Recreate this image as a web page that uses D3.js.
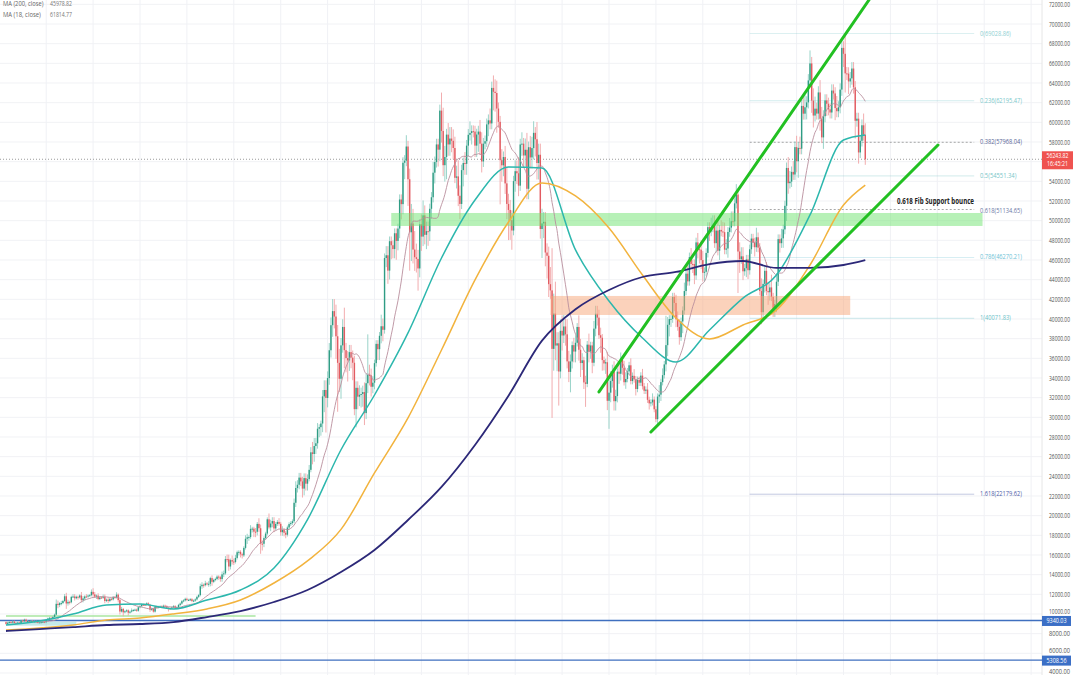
<!DOCTYPE html>
<html><head><meta charset="utf-8">
<script src="https://cdn.jsdelivr.net/npm/d3@7"></script>
<style>body{margin:0;background:#fff;}svg{display:block;font-family:"Open Sans",Roboto,sans-serif;}</style>
</head><body><svg id="c" width="1080" height="675"></svg>
<script>
// daily closes in $k, first candle = 2020-06-27
const closes = [
9.00,9.11,9.19,9.14,
9.23,9.09,9.07,9.13,9.07,9.34,9.25,9.43,9.24,9.29,9.24,9.30,9.24,9.25,9.20,9.13,9.15,9.17,9.21,9.16,9.39,9.54,9.61,9.55,9.70,9.93,11.03,10.91,11.10,11.11,11.32,
11.80,11.07,11.23,11.19,11.74,11.78,11.60,11.75,11.68,11.88,11.41,11.58,11.78,11.77,11.87,11.91,12.25,11.99,11.76,11.87,11.52,11.68,11.65,11.75,11.32,11.46,11.32,11.54,11.48,11.71,11.68,
11.97,11.41,10.25,10.51,10.17,10.28,10.37,10.13,10.24,10.36,10.40,10.44,10.33,10.68,10.79,10.95,10.94,10.93,11.08,10.92,10.42,10.54,10.24,10.74,10.69,10.73,10.77,10.71,10.84,10.78,
10.62,10.57,10.55,10.67,10.79,10.60,10.67,10.92,11.06,11.30,11.38,11.54,11.43,11.43,11.50,11.32,11.36,11.48,11.74,11.92,12.82,12.97,12.93,13.11,13.03,13.07,13.65,13.27,13.46,13.56,13.80,
13.74,13.55,14.03,14.13,15.58,15.57,14.83,15.48,15.33,15.29,15.70,16.28,16.32,16.07,15.96,16.72,17.65,17.80,17.82,18.66,18.68,18.37,18.36,19.16,18.72,17.15,17.14,17.72,18.18,19.63,
18.80,19.20,19.45,18.70,19.15,19.36,19.17,18.32,18.55,18.26,18.06,18.80,19.14,19.25,19.43,21.31,22.81,23.14,23.87,23.48,22.75,23.82,23.25,23.72,24.66,26.44,26.27,27.08,27.36,28.84,29.00,
29.37,32.13,32.78,31.97,33.99,36.82,39.37,40.80,40.25,38.24,35.54,33.92,37.32,39.19,36.83,36.02,35.79,36.63,36.07,35.55,30.83,33.00,32.10,32.29,32.37,32.57,30.43,33.47,34.32,34.27,33.11,
33.52,35.51,37.47,36.93,38.29,39.26,38.90,46.20,46.48,44.92,47.91,47.50,47.11,48.72,47.94,49.20,52.15,51.68,55.89,56.10,57.54,54.21,48.82,49.71,47.06,46.28,46.11,45.14,
49.63,48.38,50.54,48.56,48.93,48.91,51.21,52.38,54.88,55.96,57.75,57.22,61.19,59.12,55.64,56.47,58.75,57.75,58.35,58.12,57.39,54.36,54.50,52.53,51.70,55.14,55.86,55.78,57.63,58.73,58.92,
59.10,59.06,57.63,58.76,59.06,57.83,56.02,57.83,58.08,59.79,60.20,59.89,63.50,63.11,62.98,61.40,60.05,56.15,55.63,56.47,53.79,51.70,51.09,50.05,49.00,54.02,55.03,54.82,53.56,57.75,
57.83,56.63,57.21,53.24,57.47,56.43,57.38,58.93,58.28,55.86,56.70,49.15,49.72,49.88,46.76,46.43,43.54,42.91,36.96,40.55,37.30,37.53,34.66,38.80,38.32,39.24,38.44,35.69,34.62,35.68,37.34,
36.69,37.58,39.19,36.87,35.52,35.80,33.55,33.40,37.39,36.69,37.31,35.55,39.02,40.53,40.14,38.35,38.09,35.82,35.48,35.60,31.68,32.51,33.69,34.66,31.64,32.16,34.64,34.43,35.87,35.04,
33.57,33.90,34.67,35.29,33.69,34.22,33.86,32.88,33.81,33.52,34.24,33.16,32.70,32.82,31.78,31.42,31.52,31.80,30.82,29.81,32.11,32.31,33.58,34.29,35.38,37.34,39.41,39.99,40.01,42.24,41.63,
39.97,39.20,38.15,39.75,40.87,42.84,44.61,43.83,46.29,45.60,45.59,44.43,47.79,47.10,47.05,45.99,44.70,44.80,46.72,49.34,48.91,49.32,49.55,47.71,48.99,46.94,49.06,48.90,48.83,47.05,47.17,
48.85,49.29,49.94,49.92,51.76,52.66,46.86,46.07,46.37,44.85,45.16,46.06,44.96,47.09,48.18,47.78,47.30,48.31,47.26,42.84,40.69,43.57,44.90,42.84,42.72,43.21,42.24,41.03,41.52,43.79,
48.12,47.71,48.20,49.11,51.51,55.36,53.81,53.97,54.96,54.69,57.48,56.04,57.40,57.32,61.67,60.88,61.53,62.03,64.26,65.99,62.21,60.69,61.39,60.89,63.04,60.36,58.47,60.62,62.23,61.89,61.32,
61.00,63.23,62.94,61.45,61.13,61.53,63.33,67.57,66.97,64.98,64.95,64.16,64.47,65.47,63.56,60.16,60.37,56.94,58.12,59.70,58.73,56.24
];
const firstOpen = 9.16;
// upper / lower wick, % of body edge
const upWick = [
1,1,1,1,
1,1,1,1,1,1,1,1,1,1,0,1,1,1,1,1,0,1,1,1,1,1,1,1,1,1,4,3,1,2,1,
2,3,2,1,1,2,2,1,1,1,3,2,1,2,1,1,2,3,2,1,2,1,1,2,2,1,2,1,1,1,1,
2,1,1,2,1,1,1,1,1,2,1,1,1,1,1,1,1,1,1,1,1,1,1,1,1,1,1,1,1,1,
1,1,1,1,1,1,1,1,1,1,1,1,1,1,1,1,1,1,1,1,2,2,1,2,1,2,1,2,1,1,1,
1,1,2,2,2,3,3,1,3,2,2,1,1,1,1,1,2,2,1,2,1,1,2,1,3,2,2,1,1,1,
3,2,2,2,1,1,2,1,2,1,1,1,1,1,1,2,3,2,2,2,2,2,2,2,2,2,4,3,2,2,1,
1,2,3,3,2,2,2,3,3,3,3,4,2,2,5,2,2,2,2,2,2,2,2,3,2,2,3,3,12,3,2,
2,1,1,1,1,3,2,1,2,2,1,1,1,1,1,1,1,1,1,1,2,1,2,4,3,4,3,2,
1,2,3,2,2,2,1,1,2,1,1,1,1,3,4,2,1,2,2,2,2,2,2,3,2,1,1,2,1,1,2,
1,1,1,1,1,2,2,1,1,1,1,2,1,2,2,2,1,1,2,1,2,3,2,2,2,1,2,2,3,1,
2,1,2,3,1,2,2,2,1,3,2,2,3,2,2,2,2,4,10,5,8,3,3,3,4,3,2,4,3,2,1,
2,2,1,3,3,2,1,2,1,3,1,1,2,2,2,2,2,1,1,1,3,4,3,2,3,2,1,2,2,1,
2,2,1,1,2,1,2,1,1,1,1,2,1,1,2,1,1,2,1,1,1,3,1,2,1,8,2,1,1,1,1,
2,2,2,1,1,2,1,2,1,2,1,1,1,2,1,2,2,1,1,1,1,2,2,2,1,2,1,2,2,2,2,
1,2,2,2,1,2,1,2,2,2,1,1,1,1,1,1,1,2,1,1,3,1,1,2,2,1,3,1,1,2,
1,1,2,1,1,1,2,2,1,2,1,2,1,2,1,2,2,1,1,2,1,2,2,1,1,2,2,1,1,1,1,
1,1,1,1,2,1,1,1,1,3,1,1,1,1,1,1,1,1,1,1,2,2
];
const dnWick = [
1,1,1,1,
1,1,1,1,1,1,1,1,1,1,0,1,1,1,1,1,0,1,1,1,1,1,1,1,1,1,1,3,2,2,1,
1,5,2,2,1,1,2,1,2,1,2,2,2,1,1,1,1,2,1,2,1,1,1,1,2,1,2,1,1,1,1,
1,2,3,1,4,1,1,3,1,1,1,1,1,1,1,1,1,1,1,1,2,1,1,1,1,1,1,1,1,1,
1,3,1,1,1,1,1,1,1,1,1,1,1,1,1,1,1,1,1,1,1,2,2,1,1,2,2,3,1,1,1,
2,2,2,2,1,2,3,2,2,2,1,1,2,2,2,1,1,3,2,1,2,3,3,2,2,6,4,2,1,1,
1,2,2,2,1,1,1,2,2,2,2,1,1,1,1,1,2,2,2,2,4,3,3,3,1,1,4,3,3,2,3,
3,3,5,11,3,2,2,3,3,6,14,4,6,2,5,4,6,3,3,5,2,6,4,3,4,4,4,2,3,3,3,
2,2,1,3,3,2,3,1,2,3,2,3,2,2,4,2,2,3,2,3,1,5,8,6,3,3,3,5,
2,3,2,2,3,3,2,2,1,2,1,3,2,2,2,3,4,2,2,2,2,1,2,2,3,1,3,2,2,2,1,
2,1,2,2,3,2,2,1,1,1,2,1,1,3,3,4,1,8,3,2,2,3,6,4,4,1,2,2,2,1,
2,2,2,2,2,2,2,2,3,3,3,2,6,3,3,5,3,2,19,6,4,7,10,2,4,2,3,2,3,6,2,
3,3,1,3,4,2,2,7,1,3,2,3,1,2,2,1,4,3,2,3,3,9,3,2,3,3,2,3,2,2,
1,2,1,1,1,1,1,2,1,1,1,1,1,1,1,2,1,1,1,1,2,2,2,1,1,2,3,3,2,1,2,
2,1,2,1,3,1,1,1,1,1,2,2,1,2,3,2,2,2,1,1,2,1,1,1,2,1,2,1,1,1,1,
2,1,1,1,1,1,9,3,1,2,1,2,2,1,1,1,2,1,1,1,3,2,2,1,3,2,1,2,2,2,
1,2,1,2,1,3,2,1,1,1,1,2,3,1,1,1,1,2,1,1,2,2,1,1,1,2,1,2,1,2,1,
1,1,1,2,1,1,1,1,2,3,1,2,1,1,1,3,1,2,1,1,1,1
];
// moving averages ($k), at these candle indices
const maIdx = [0,20,40,60,80,100,120,140,160,180,200,220,240,260,280,300,320,340,360,380,400,420,440,460,480,500,513];
const ma50  = [8.88,9.28,9.99,10.91,11.01,10.51,11.42,12.44,14.68,19.6,26.7,32.27,38.58,46.20,52.10,55.46,55.36,47.02,41.83,38.07,35.63,38.88,42.13,44.47,50.58,58.20,58.71];
const ma100 = [8.37,8.57,8.88,9.39,9.59,10.0,10.51,11.42,13.15,15.4,18.6,24.34,29.94,36.85,43.97,49.86,53.83,52.51,49.25,44.47,40.10,37.97,39.39,40.91,45.49,51.59,53.62];
const ma200 = [8.27,8.47,8.67,8.88,8.98,9.18,9.69,10.30,11.22,12.44,14.27,16.51,19.56,22.92,27.19,32.2,37.8,41.0,42.95,44.27,44.78,45.59,45.90,45.19,45.19,45.49,45.98];
const yTicks = [4000,6000,8000,10000,12000,14000,16000,18000,20000,22000,24000,26000,28000,30000,32000,34000,36000,38000,40000,42000,44000,46000,48000,50000,52000,54000,56000,58000,60000,62000,64000,66000,68000,70000,72000];
const fibRatios = ["0","0.236","0.382","0.5","0.618","0.786","1","1.618"];
const fibValues = [69028.86,62195.47,57968.04,54551.34,51134.65,46270.21,40071.83,22179.62];
const fibColors = ["#8fcfd2","#7cc9cc","#5a6797","#77c6c8","#6c79a6","#6ec2d6","#6cc3c9","#4d5ea8"];
const fibDashed = [false,false,true,false,true,false,false,false];
const fibRange = [444,578];
const greenZone = {i0:230, i1:583, v0:49460, v1:50780};
const orangeZone = {i0:325, i1:504, v0:40410, v1:42340};
const channelUpper = [[354,32580],[515.2,72440]];
const channelLower = [[385,28510],[556.4,57690]];
const hLines = [9340.03,5308.56];
const lastPrice = 56243.82, countdown = "16:45:21";
const legend = [["MA (200, close)","45978.82"],["MA (18, close)","61814.77"]];

const svg = d3.select("#c");
const W=1080,H=675, plotR=1042;
const x = d3.scaleLinear().domain([0,618.5]).range([6,plotR]);
const y = d3.scaleLinear().domain([4000,72000]).range([24+66000*0.009833, 24-2000*0.009833]);

// grid
const g = svg.append("g");
g.selectAll("line.h").data(yTicks).join("line").attr("x1",0).attr("x2",plotR)
 .attr("y1",d=>y(d)).attr("y2",d=>y(d)).attr("stroke","#f1f2f5").attr("stroke-width",1);
const vGrid = d3.range(24,620,28);
g.selectAll("line.v").data(vGrid).join("line").attr("x1",d=>x(d)).attr("x2",d=>x(d))
 .attr("y1",0).attr("y2",H).attr("stroke","#f0f1f5").attr("stroke-width",1);
svg.append("line").attr("x1",plotR).attr("x2",plotR).attr("y1",0).attr("y2",H).attr("stroke","#e6e6e6");

// small range box at start and pale green line
svg.append("rect").attr("x",x(0)).attr("width",x(42)-x(0)).attr("y",y(9210)).attr("height",y(8810)-y(9210))
 .attr("fill","#7fd0d0").attr("opacity",0.45);
svg.append("line").attr("x1",x(0)).attr("x2",x(149)).attr("y1",y(9800)).attr("y2",y(9800))
 .attr("stroke","#a8e6a0").attr("stroke-width",1.6);

// horizontal blue lines
svg.selectAll("line.hl").data(hLines).join("line").attr("x1",0).attr("x2",plotR)
 .attr("y1",d=>y(d)).attr("y2",d=>y(d)).attr("stroke","#3f6fbf").attr("stroke-width",1.4);

// current price dotted line
svg.append("line").attr("x1",0).attr("x2",plotR).attr("y1",y(lastPrice)).attr("y2",y(lastPrice))
 .attr("stroke","#9a9a9a").attr("stroke-dasharray","1,2").attr("stroke-width",1);

// fib lines
fibValues.forEach((v,k)=>{
  svg.append("line").attr("x1",x(fibRange[0])).attr("x2",x(fibRange[1])).attr("y1",y(v)).attr("y2",y(v))
   .attr("stroke",fibDashed[k]?"#888":fibColors[k]).attr("stroke-width",fibDashed[k]?0.8:0.6)
   .attr("stroke-dasharray",fibDashed[k]?"2,2":null).attr("opacity",fibDashed[k]?0.9:0.55);
});

// candles
const candles = closes.map((c,i)=>{
  const o = i===0?firstOpen:closes[i-1];
  const u = upWick[i]??1, d = dnWick[i]??1;
  return {i,o:o*1000,c:c*1000,h:Math.max(o,c)*(1+u/100)*1000,l:Math.min(o,c)*(1-d/100)*1000};
});
const cg = svg.append("g");
cg.selectAll("line").data(candles).join("line")
 .attr("x1",d=>x(d.i)).attr("x2",d=>x(d.i)).attr("y1",d=>y(d.h)).attr("y2",d=>y(d.l))
 .attr("stroke",d=>d.c>=d.o?"#8fcfc3":"#f0a4a6").attr("stroke-width",0.9);
cg.selectAll("rect").data(candles).join("rect")
 .attr("x",d=>x(d.i)-0.7).attr("width",1.4)
 .attr("y",d=>y(Math.max(d.o,d.c))).attr("height",d=>Math.max(1,Math.abs(y(d.o)-y(d.c))))
 .attr("fill",d=>d.c>=d.o?"#2f9c84":"#e25b61");

// zones
svg.append("rect").attr("x",x(greenZone.i0)).attr("width",x(greenZone.i1)-x(greenZone.i0))
 .attr("y",y(greenZone.v1)).attr("height",y(greenZone.v0)-y(greenZone.v1)).attr("fill","#6fe36f").attr("opacity",0.5);
svg.append("rect").attr("x",x(orangeZone.i0)).attr("width",x(orangeZone.i1)-x(orangeZone.i0))
 .attr("y",y(orangeZone.v1)).attr("height",y(orangeZone.v0)-y(orangeZone.v1)).attr("fill","#f7a677").attr("opacity",0.5);

// moving averages
const lineS = d3.line().x(d=>x(d[0])).y(d=>y(d[1]*1000)).curve(d3.curveMonotoneX);
const ma18 = [];
for(let i=17;i<closes.length;i++){ ma18.push([i, d3.mean(closes.slice(i-17,i+1))]); }
svg.append("path").attr("d",lineS(ma18)).attr("fill","none").attr("stroke","#b98e9d").attr("stroke-width",0.9);
[[ma50,"#2cb7ad",1.5],[ma100,"#f2b33d",1.5],[ma200,"#2c2878",1.8]].forEach(([arr,col,w])=>{
  svg.append("path").attr("d",lineS(arr.map((v,k)=>[maIdx[k],v]))).attr("fill","none").attr("stroke",col).attr("stroke-width",w);
});

// channel lines
[channelUpper,channelLower].forEach(seg=>{
  svg.append("line").attr("x1",x(seg[0][0])).attr("y1",y(seg[0][1])).attr("x2",x(seg[1][0])).attr("y2",y(seg[1][1]))
   .attr("stroke","#22c022").attr("stroke-width",3).attr("stroke-linecap","round");
});

// text helper
function txt(xp,yp,s,size,col,len,anchor,weight){
  const t = svg.append("text").attr("x",xp).attr("y",yp).text(s).attr("font-size",size).attr("fill",col)
   .attr("text-anchor",anchor||"start").attr("dominant-baseline","middle");
  if(len) t.attr("textLength",len).attr("lengthAdjust","spacingAndGlyphs");
  if(weight) t.attr("font-weight",weight);
  return t;
}
// fib labels
fibValues.forEach((v,k)=>{
  const s = fibRatios[k]+"("+v.toFixed(2)+")";
  txt(980,y(v)+(k===4?1.5:0),s,7.5,fibColors[k],s.length*2.8);
});
// annotation
txt(897,202,"0.618 Fib Support bounce",8.2,"#222",77,"start","bold");

// y axis labels (the 56000 label sits under the price tag, so it is not drawn)
const axTicks = yTicks.filter(v=>Math.abs(y(v)-y(lastPrice))>9);
const ax = svg.append("g").attr("transform",`translate(${plotR},0)`)
 .call(d3.axisRight(y).tickValues(axTicks).tickFormat(d=>d.toFixed(2)).tickSize(0).tickPadding(7));
ax.select(".domain").remove();
ax.selectAll("text").attr("font-size",7).attr("fill","#555").attr("font-family","'Open Sans',sans-serif")
 .attr("textLength",21).attr("lengthAdjust","spacingAndGlyphs")
 .attr("dy",d=>(d===10000||d===6000)?"-0.1em":(d===4000?"0.1em":"0.32em"));

// price tags
const ly = y(lastPrice);
svg.append("rect").attr("x",plotR).attr("y",ly-8).attr("width",31).attr("height",18).attr("fill","#ef5350");
txt(plotR+15.5,ly-3,lastPrice.toFixed(2),7.2,"#fff",22,"middle");
txt(plotR+15.5,ly+5,countdown,7.2,"#fff",21,"middle");
hLines.forEach(v=>{
  svg.append("rect").attr("x",plotR).attr("y",y(v)-4.5).attr("width",29).attr("height",10).attr("fill","#3b6fc6");
  txt(plotR+14.5,y(v)+0.5,v.toFixed(2),7.2,"#fff",20,"middle");
});

// legend
legend.forEach((l,k)=>{
  txt(3,4.5+k*10.5,l[0],7,"#666",l[0].length*2.7);
  txt(50,4.5+k*10.5,l[1],7,"#777",22);
});
</script></body></html>
